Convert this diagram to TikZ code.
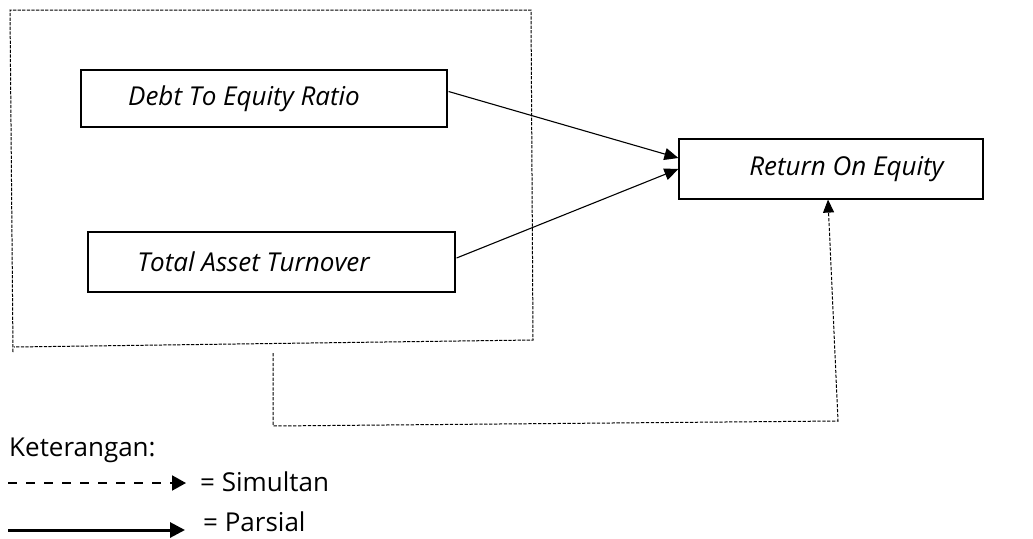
\documentclass[tikz,border=0pt]{standalone}
\usepackage{fontspec}
\setmainfont{Open Sans}
\usepackage{tikz}
\usetikzlibrary{arrows.meta,positioning,calc}

\begin{document}
\begin{tikzpicture}[x=1pt, y=-1pt, font=\fontsize{26}{30}\selectfont,
	var/.style={draw, line width=1.2pt, inner sep=0pt, minimum height=57pt, font=\fontsize{26}{30}\selectfont\itshape},
	parsial/.style={-{Triangle[length=14pt, width=12pt]}, line width=1.1pt},
	simultan/.style={-{Triangle[length=13pt, width=11pt]}, line width=1pt, dash pattern=on 3.3pt off 1.6pt},
	grp/.style={line width=1pt, dash pattern=on 3.3pt off 1.3pt},
	legend/.style={anchor=base west, inner sep=0pt}]
	\useasboundingbox (0,0) rectangle (1033,538);

	\node (der) at (264,98.5) [var, minimum width=366pt] {Debt To Equity Ratio\hspace*{40pt}};
	\node (tat) at (271.5,262) [var, minimum width=367pt, minimum height=60pt] {Total Asset Turnover\hspace*{36pt}};
	\node (roe) at (831,169) [var, minimum width=304pt, minimum height=60pt] {\hspace*{31pt}Return On Equity};

	%kotak putus-putus, sedikit miring kot v originalu
	\draw [grp] (13,352) -- (10,10) -- (531,10) -- (533,340) -- (14,347);
	\coordinate (g) at (273,353);
	\coordinate (gb) at (273,426);
	\coordinate (rb) at (838,421);

	\draw [parsial] ($(der.east)+(1,-7)$) -- ($(roe.west)+(0,-11)$);
	\draw [parsial] ($(tat.east)+(1,-4)$) -- ($(roe.west)+(0,0)$);
	\draw [simultan] (g) -- (gb) -- (rb) -- ($(roe.south)+(-3,0)$);

	% keterangan
	\node (ket) at (9,456) [legend] {Keterangan:};
	\node (sim) at (200,491) [legend] {= Simultan};
	\node (par) at (203,531) [legend] {= Parsial};
	\coordinate (s0) at (8,483);
	\coordinate (p0) at (8,530);
	\draw [-{Triangle[length=14pt, width=15pt]}, line width=2pt, dash pattern=on 9pt off 9pt] (s0) -- (186,483);
	\draw [-{Triangle[length=15pt, width=15pt]}, line width=3pt] (p0) -- (185,530);
\end{tikzpicture}
\end{document}
